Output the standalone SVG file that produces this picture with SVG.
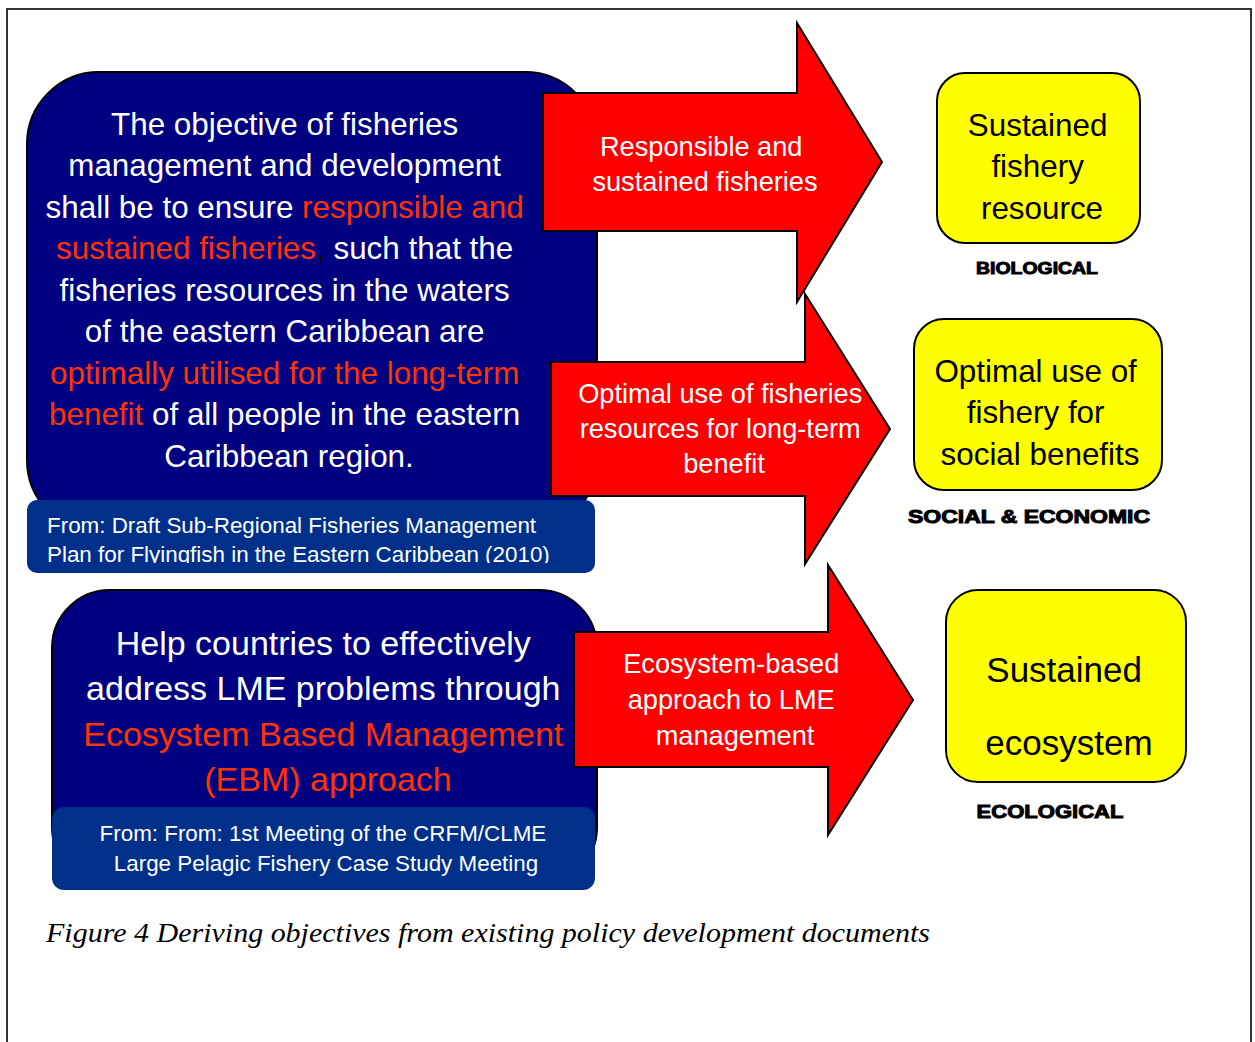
<svg xmlns="http://www.w3.org/2000/svg" width="1255" height="1042" viewBox="0 0 1255 1042">
<style>
.navy{fill:#000080;stroke:#000;stroke-width:2}
.src{fill:#00308A}
.arrow{fill:#FF0000;stroke:#000;stroke-width:2;stroke-linejoin:miter}
.yel{fill:#FFFF00;stroke:#000;stroke-width:2}
.t{font-family:"Liberation Sans",Arial,sans-serif}
.w{fill:#fff}
.r{fill:#FF3300}
.k{fill:#000}
.lab{font-family:"Liberation Sans",Arial,sans-serif;font-weight:bold;fill:#000;stroke:#000;stroke-width:1;text-anchor:middle}
.mid{text-anchor:middle}
</style>
<defs>
<clipPath id="clip1"><rect x="27" y="500" width="568" height="63"/></clipPath>
</defs>
<rect x="7" y="9" width="1244" height="1040" fill="#fff" stroke="#333" stroke-width="2"/>

<g id="source1-objective">
<rect class="navy" x="27" y="72" width="570" height="460" rx="72" ry="72"/>
<text class="t mid w" font-size="31.4">
<tspan x="289" y="135">The objective of fisheries</tspan>
<tspan x="289" y="176">management and development</tspan>
<tspan x="289" y="218">shall be to ensure <tspan class="r">responsible and</tspan></tspan>
<tspan x="289" y="259"><tspan class="r">sustained fisheries</tspan><tspan class="k">,</tspan>  such that the</tspan>
<tspan x="289" y="301">fisheries resources in the waters</tspan>
<tspan x="289" y="342">of the eastern Caribbean are</tspan>
<tspan x="289" y="384" class="r">optimally utilised for the long-term</tspan>
<tspan x="289" y="425"><tspan class="r">benefit</tspan> of all people in the eastern</tspan>
<tspan x="289" y="467">Caribbean region.</tspan>
</text>
</g>

<g id="source1-ref">
<rect class="src" x="27" y="500" width="568" height="73" rx="10" ry="10"/>
<g clip-path="url(#clip1)">
<text class="t w" font-size="22.4" x="47" y="533">From: Draft Sub-Regional Fisheries Management</text>
<text class="t w" font-size="22.4" x="47" y="562">Plan for Flyingfish in the Eastern Caribbean (2010)</text>
</g>
</g>

<g id="source2-objective">
<rect class="navy" x="52" y="590" width="545" height="295" rx="58" ry="58"/>
<text class="t mid w" font-size="34">
<tspan x="328" y="655">Help countries to effectively</tspan>
<tspan x="328" y="700">address LME problems through</tspan>
<tspan x="328" y="746" class="r">Ecosystem Based Management</tspan>
<tspan x="328" y="791" class="r">(EBM) approach</tspan>
</text>
</g>

<g id="source2-ref">
<rect class="src" x="52" y="807" width="543" height="83" rx="12" ry="12"/>
<text class="t mid w" font-size="22.4">
<tspan x="326" y="841">From: From: 1st Meeting of the CRFM/CLME</tspan>
<tspan x="326" y="871">Large Pelagic Fishery Case Study Meeting</tspan>
</text>
</g>

<g id="connectors">
<g id="arrow1">
<polygon class="arrow" points="543,93 797,93 797,23 882,162 797,302 797,231 543,231"/>
<text class="t mid w" font-size="27.2">
<tspan x="705" y="156">Responsible and</tspan>
<tspan x="705" y="191">sustained fisheries</tspan>
</text>
</g>
<g id="arrow2">
<polygon class="arrow" points="551,362 805,362 805,294 890,429 805,564 805,496 551,496"/>
<text class="t mid w" font-size="27.2">
<tspan x="724" y="403">Optimal use of fisheries</tspan>
<tspan x="724" y="438">resources for long-term</tspan>
<tspan x="724" y="473">benefit</tspan>
</text>
</g>
<g id="arrow3">
<polygon class="arrow" points="574,632 828,632 828,565 913,700 828,835 828,767 574,767"/>
<text class="t mid w" font-size="27.2">
<tspan x="735" y="673">Ecosystem-based</tspan>
<tspan x="735" y="709">approach to LME</tspan>
<tspan x="735" y="745">management</tspan>
</text>
</g>
</g>

<g id="outcome-biological">
<rect class="yel" x="937" y="73" width="203" height="170" rx="28" ry="28"/>
<text class="t mid k" font-size="31.4">
<tspan x="1042" y="136">Sustained</tspan>
<tspan x="1042" y="177">fishery</tspan>
<tspan x="1042" y="219">resource</tspan>
</text>
<text class="lab" font-size="17" x="1037" y="274" textLength="122" lengthAdjust="spacingAndGlyphs">BIOLOGICAL</text>
</g>

<g id="outcome-social">
<rect class="yel" x="914" y="319" width="248" height="171" rx="30" ry="30"/>
<text class="t mid k" font-size="31.4">
<tspan x="1040" y="382">Optimal use of</tspan>
<tspan x="1040" y="423">fishery for</tspan>
<tspan x="1040" y="465">social benefits</tspan>
</text>
<text class="lab" font-size="19" x="1029" y="523" textLength="242" lengthAdjust="spacingAndGlyphs">SOCIAL &amp; ECONOMIC</text>
</g>

<g id="outcome-ecological">
<rect class="yel" x="946" y="590" width="240" height="192" rx="32" ry="32"/>
<text class="t mid k" font-size="35">
<tspan x="1069" y="682">Sustained</tspan>
<tspan x="1069" y="755">ecosystem</tspan>
</text>
<text class="lab" font-size="19" x="1050" y="818" textLength="147" lengthAdjust="spacingAndGlyphs">ECOLOGICAL</text>
</g>

<text id="caption" font-family="'Liberation Serif','Times New Roman',serif" font-style="italic" font-size="27" x="46" y="942" textLength="884" lengthAdjust="spacingAndGlyphs" fill="#000">Figure 4 Deriving objectives from existing policy development documents</text>
</svg>
